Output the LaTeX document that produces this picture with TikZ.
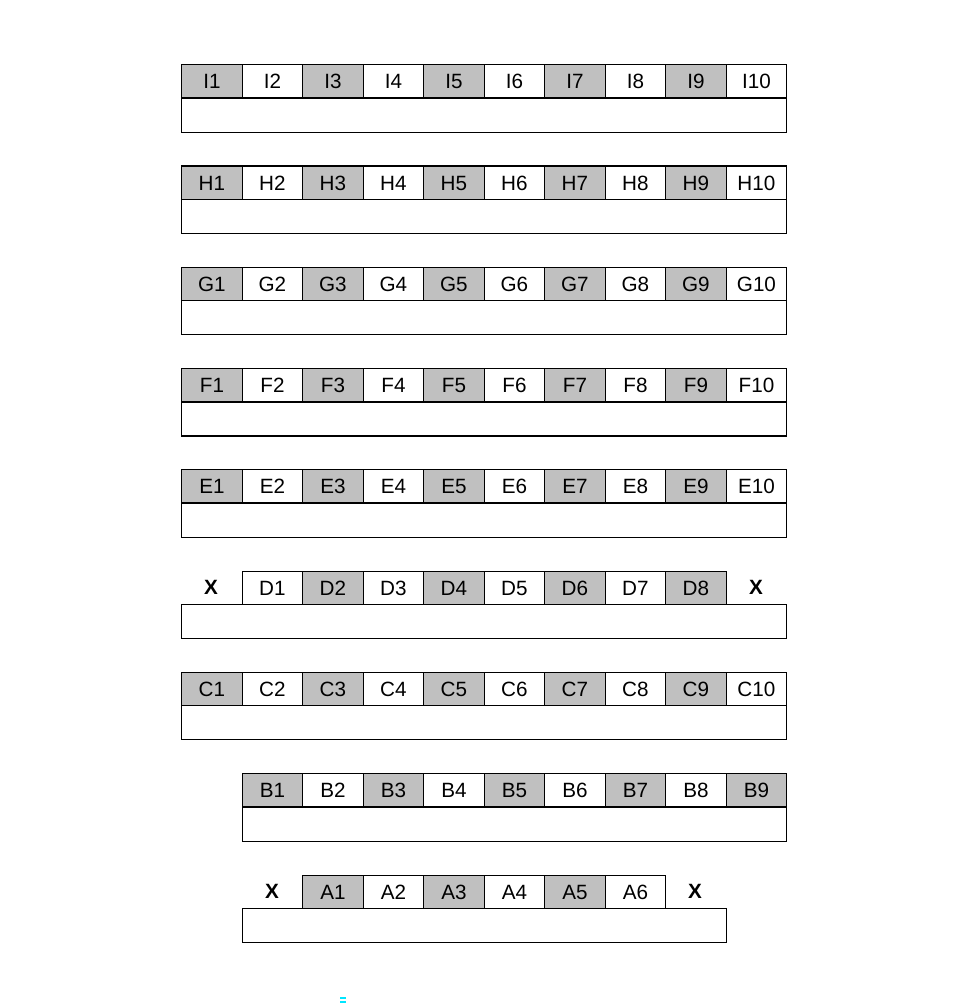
\documentclass[tikz,border=0pt]{standalone}
\usepackage{fontspec}
\setmainfont{Liberation Sans}
\definecolor{cellgray}{RGB}{192,192,192}
\definecolor{markcyan}{RGB}{0,230,255}
\tikzset{
  cellbox/.style={draw, line width=1.05pt, minimum width=45.375pt, minimum height=25.1pt,
    inner sep=0pt, anchor=north west, font=\fontsize{15.5}{18}\selectfont,
    text height=11.1pt, text depth=0pt},
  graycell/.style={cellbox, fill=cellgray},
  whitecell/.style={cellbox, fill=white},
  barbox/.style={draw, line width=1.05pt, minimum height=25.5pt, inner sep=0pt, anchor=north west},
  xmark/.style={font=\fontsize{15.5}{18}\selectfont\bfseries, inner sep=0pt, text height=11.1pt, text depth=0pt}
}
\begin{document}
\begin{tikzpicture}[x=0.75pt,y=-0.75pt]
\useasboundingbox (0,0) rectangle (974,1008);
% full rows
\foreach \L/\y in {I/64,H/165.25,G/266.5,F/367.75,E/469,C/671.5}{
  \node[barbox, minimum width=453.75pt] (\L bar) at (181,{\y+33.5}) {};
  \foreach \i in {1,3,...,9}{
    \node[graycell] (\L\i) at ({181+(\i-1)*60.5},\y) {\L\i};
  }
  \foreach \i in {2,4,...,10}{
    \node[whitecell] (\L\i) at ({181+(\i-1)*60.5},\y) {\L\i};
  }
}
% D row
\node[barbox, minimum width=453.75pt] (Dbar) at (181,604) {};
\foreach \i in {1,3,...,7}{
  \node[whitecell] (D\i) at ({241.5+(\i-1)*60.5},570.5) {D\i};
}
\foreach \i in {2,4,...,8}{
  \node[graycell] (D\i) at ({241.5+(\i-1)*60.5},570.5) {D\i};
}
\node[xmark] (Dx1) at (211,587) {X};
\node[xmark] (Dx2) at (756,587) {X};
% B row
\node[barbox, minimum width=408.375pt] (Bbar) at (241.5,806.5) {};
\foreach \i in {1,3,...,9}{
  \node[graycell] (B\i) at ({241.5+(\i-1)*60.5},773) {B\i};
}
\foreach \i in {2,4,...,8}{
  \node[whitecell] (B\i) at ({241.5+(\i-1)*60.5},773) {B\i};
}
% A row
\node[barbox, minimum width=363pt] (Abar) at (241.5,908) {};
\foreach \i in {1,3,5}{
  \node[graycell] (A\i) at ({302+(\i-1)*60.5},874.5) {A\i};
}
\foreach \i in {2,4,6}{
  \node[whitecell] (A\i) at ({302+(\i-1)*60.5},874.5) {A\i};
}
\node[xmark] (Ax1) at (272,891) {X};
\node[xmark] (Ax2) at (695,891) {X};
% small cyan mark
\draw[markcyan, line width=0.8pt] (340,998) -- (346,998);
\draw[markcyan, line width=0.8pt] (340,1002) -- (346,1002);
\end{tikzpicture}
\end{document}
